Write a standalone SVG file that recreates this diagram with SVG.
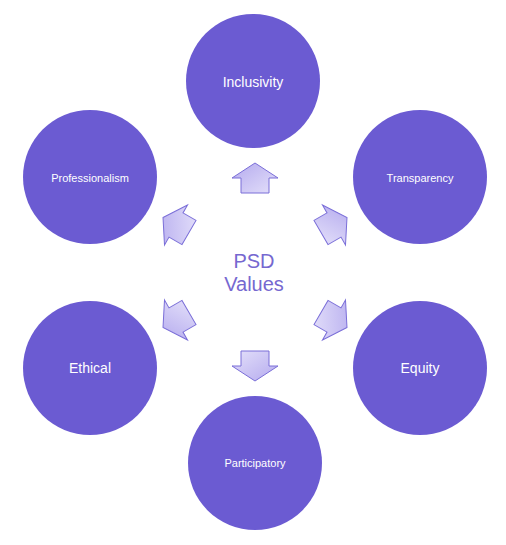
<svg xmlns="http://www.w3.org/2000/svg" width="506" height="545" viewBox="0 0 506 545">
<defs>
<linearGradient id="ag" x1="0" y1="0" x2="1" y2="1">
<stop offset="0" stop-color="#b4aaee"/>
<stop offset="1" stop-color="#e4e0fa"/>
</linearGradient>
<path id="arr" d="M0,-15 L23,0 L14,0 L14,15 L-14,15 L-14,0 L-23,0 Z"/>
</defs>
<style>
.node circle{fill:#6b5bd2}
.lbl{fill:#ffffff;font-family:"Liberation Sans",Arial,sans-serif;text-anchor:middle}
.big{font-size:14px}
.small{font-size:11px}
.conn use{fill:url(#ag);stroke:#7a6ed8;stroke-width:1;stroke-linejoin:miter}
.center{fill:#7668d0;font-family:"Liberation Sans",Arial,sans-serif;font-size:20px;text-anchor:middle}
</style>
<rect width="506" height="545" fill="#ffffff"/>
<g id="inclusivity" class="node"><circle cx="253" cy="81" r="67"/><text class="lbl big" x="253" y="87">Inclusivity</text></g>
<g id="transparency" class="node"><circle cx="420" cy="177" r="67"/><text class="lbl small" x="420" y="182">Transparency</text></g>
<g id="equity" class="node"><circle cx="420" cy="368" r="67"/><text class="lbl big" x="420" y="373">Equity</text></g>
<g id="participatory" class="node"><circle cx="255" cy="463" r="67"/><text class="lbl small" x="255" y="467">Participatory</text></g>
<g id="ethical" class="node"><circle cx="90" cy="368" r="67"/><text class="lbl big" x="90" y="373">Ethical</text></g>
<g id="professionalism" class="node"><circle cx="90" cy="177" r="67"/><text class="lbl small" x="90" y="182">Professionalism</text></g>
<g id="psd-values"><text class="center" x="254" y="268">PSD</text><text class="center" x="254" y="291">Values</text></g>
<g id="connectors" class="conn">
<use href="#arr" transform="translate(255,178)"/>
<use href="#arr" transform="translate(334,225) rotate(60)"/>
<use href="#arr" transform="translate(334,320) rotate(120)"/>
<use href="#arr" transform="translate(255,366) rotate(180)"/>
<use href="#arr" transform="translate(176,320) rotate(-120)"/>
<use href="#arr" transform="translate(176,225) rotate(-60)"/>
</g>
</svg>
